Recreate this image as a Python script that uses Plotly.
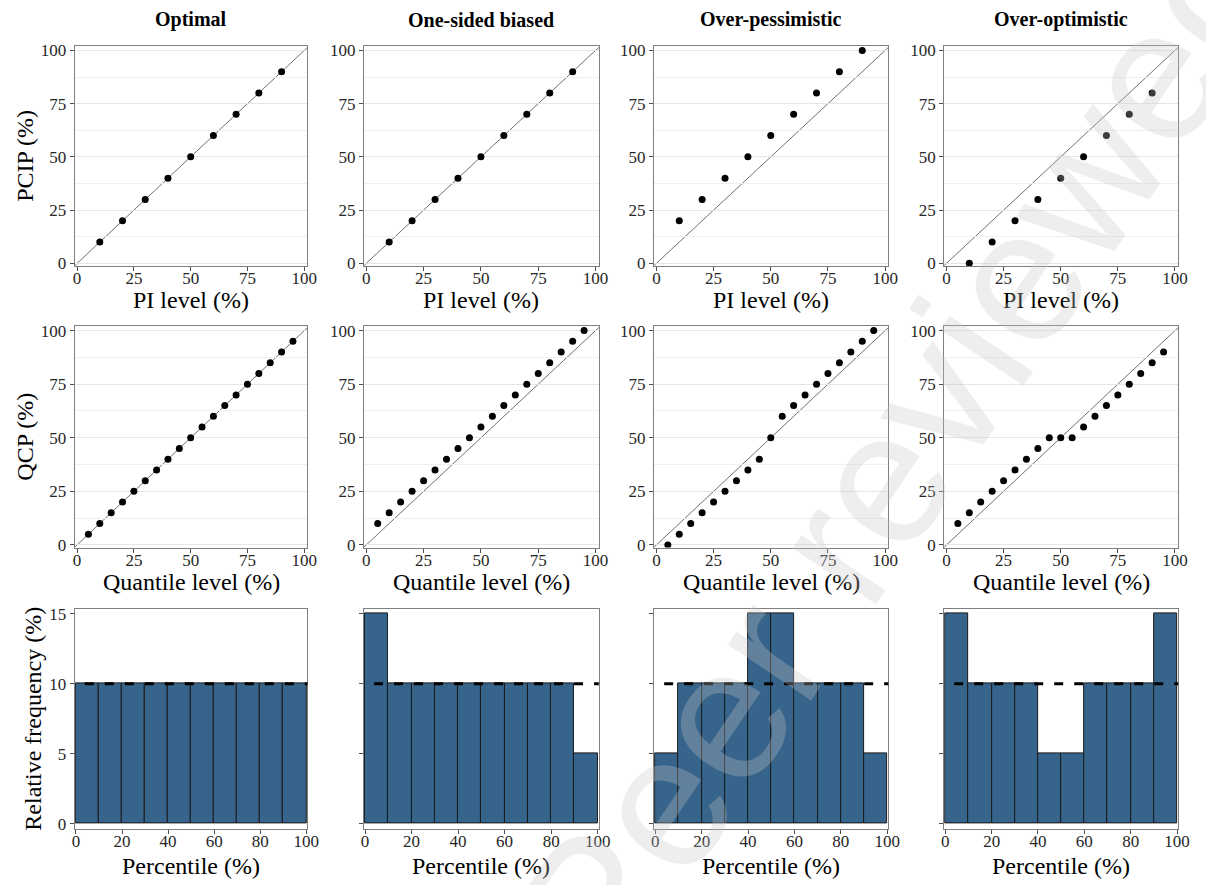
import plotly.graph_objects as go

# ---------------- data ----------------
COL_TITLES = ["Optimal", "One-sided biased", "Over-pessimistic", "Over-optimistic"]

PI_LEVEL = [10, 20, 30, 40, 50, 60, 70, 80, 90]
PCIP_OPTIMAL = [10, 20, 30, 40, 50, 60, 70, 80, 90]
PCIP_ONE_SIDED = [10, 20, 30, 40, 50, 60, 70, 80, 90]
PCIP_PESSIMISTIC = [20, 30, 40, 50, 60, 70, 80, 90, 100]
PCIP_OPTIMISTIC = [0, 10, 20, 30, 40, 50, 60, 70, 80]

Q_LEVEL = [5, 10, 15, 20, 25, 30, 35, 40, 45, 50, 55, 60, 65, 70, 75, 80, 85, 90, 95]
QCP_OPTIMAL = [5, 10, 15, 20, 25, 30, 35, 40, 45, 50, 55, 60, 65, 70, 75, 80, 85, 90, 95]
QCP_ONE_SIDED = [10, 15, 20, 25, 30, 35, 40, 45, 50, 55, 60, 65, 70, 75, 80, 85, 90, 95, 100]
QCP_PESSIMISTIC = [0, 5, 10, 15, 20, 25, 30, 35, 40, 50, 60, 65, 70, 75, 80, 85, 90, 95, 100]
QCP_OPTIMISTIC = [10, 15, 20, 25, 30, 35, 40, 45, 50, 50, 50, 55, 60, 65, 70, 75, 80, 85, 90]

BIN_LEFT = [0, 10, 20, 30, 40, 50, 60, 70, 80, 90]
BIN_WIDTH = 10
FREQ_OPTIMAL = [10, 10, 10, 10, 10, 10, 10, 10, 10, 10]
FREQ_ONE_SIDED = [15, 10, 10, 10, 10, 10, 10, 10, 10, 5]
FREQ_PESSIMISTIC = [5, 10, 10, 10, 15, 15, 10, 10, 10, 5]
FREQ_OPTIMISTIC = [15, 10, 10, 10, 5, 5, 10, 10, 10, 15]
UNIFORM_REF = 10

PCT_TICKS = [0, 25, 50, 75, 100]
HIST_X_TICKS = [0, 20, 40, 60, 80, 100]
HIST_Y_TICKS = [0, 5, 10, 15]

# ---------------- layout geometry ----------------
W, H = 1206, 885
COL_PX = [(72.7, 308.3), (365.5, 603.3), (659.3, 896.5), (953.0, 1190.0)]
ROW_PX = [(41.7, 264.5), (325.7, 550.0), (612.7, 835.0)]

SERIF = "Liberation Serif, Times New Roman, serif"
BAR_COLOR = "#36648B"
FRAME = "#7f7f7f"
TICKC = "#4d4d4d"

SCAT_X_RANGE = [-1.0, 101.4]
SCAT_Y_RANGE = [-1.2, 102.0]
HIST_X_RANGE = [-0.5, 100.5]
HIST_Y_RANGE = [-0.35, 15.32]

fig = go.Figure()

pcip = [PCIP_OPTIMAL, PCIP_ONE_SIDED, PCIP_PESSIMISTIC, PCIP_OPTIMISTIC]
qcp = [QCP_OPTIMAL, QCP_ONE_SIDED, QCP_PESSIMISTIC, QCP_OPTIMISTIC]
freq = [FREQ_OPTIMAL, FREQ_ONE_SIDED, FREQ_PESSIMISTIC, FREQ_OPTIMISTIC]

layout = {}
shapes = []
annotations = []

def dom_x(c):
    a, b = COL_PX[c]
    return [a / W, b / W]

def dom_y(r):
    a, b = ROW_PX[r]
    return [1 - b / H, 1 - a / H]

for r in range(3):
    for c in range(4):
        n = r * 4 + c + 1
        xs = "x" if n == 1 else f"x{n}"
        ys = "y" if n == 1 else f"y{n}"
        xk = "xaxis" if n == 1 else f"xaxis{n}"
        yk = "yaxis" if n == 1 else f"yaxis{n}"
        common = dict(
            showline=True, mirror=True, linecolor=FRAME, linewidth=1.2,
            ticks="outside", ticklen=4, tickwidth=1, tickcolor=TICKC,
            zeroline=False, fixedrange=True,
            tickfont=dict(family=SERIF, size=17, color="#262626"),
        )
        if r < 2:
            xdata = PI_LEVEL if r == 0 else Q_LEVEL
            ydata = pcip[c] if r == 0 else qcp[c]
            layout[xk] = dict(common, domain=dom_x(c), anchor=ys, range=SCAT_X_RANGE,
                              tickmode="array", tickvals=PCT_TICKS, showgrid=False,
                              ticklabelstandoff=-7)
            layout[yk] = dict(common, domain=dom_y(r), anchor=xs, range=SCAT_Y_RANGE,
                              tickmode="array", tickvals=PCT_TICKS,
                              showgrid=True, gridcolor="#e6e6e6", gridwidth=1.4,
                              minor=dict(tickvals=[12.5, 37.5, 62.5, 87.5], showgrid=True,
                                         gridcolor="#efefef", gridwidth=1, ticks=""))
            # identity line y = x across the whole panel
            shapes.append(dict(type="line", xref=xs, yref=ys,
                               x0=SCAT_Y_RANGE[0], y0=SCAT_Y_RANGE[0],
                               x1=SCAT_Y_RANGE[1], y1=SCAT_Y_RANGE[1],
                               line=dict(color="#707070", width=1), layer="below"))
            fig.add_trace(go.Scatter(x=xdata, y=ydata, mode="markers", xaxis=xs, yaxis=ys,
                                     marker=dict(color="black", size=7),
                                     showlegend=False, hoverinfo="x+y"))
        else:
            layout[xk] = dict(common, domain=dom_x(c), anchor=ys, range=HIST_X_RANGE,
                              tickmode="array", tickvals=HIST_X_TICKS, showgrid=False,
                              ticklabelstandoff=-7)
            layout[yk] = dict(common, domain=dom_y(r), anchor=xs, range=HIST_Y_RANGE,
                              tickmode="array", tickvals=HIST_Y_TICKS, showgrid=False,
                              showticklabels=(c == 0))
            centers = [b + BIN_WIDTH / 2 for b in BIN_LEFT]
            fig.add_trace(go.Bar(x=centers, y=freq[c], width=BIN_WIDTH, xaxis=xs, yaxis=ys,
                                 marker=dict(color=BAR_COLOR, line=dict(color="#1a1a1a", width=1)),
                                 showlegend=False))
            shapes.append(dict(type="line", xref=f"{xs} domain", yref=ys,
                               x0=0.043, x1=1.0, y0=UNIFORM_REF, y1=UNIFORM_REF,
                               line=dict(color="black", width=3, dash="9px,11px"), layer="above"))

# column titles
for c, t in enumerate(COL_TITLES):
    a, b = COL_PX[c]
    annotations.append(dict(text=f"<b>{t}</b>", x=(a + b) / 2 / W, y=1 - 15 / H,
                            xref="paper", yref="paper", showarrow=False,
                            xanchor="center", yanchor="middle",
                            font=dict(family=SERIF, size=20, color="black")))

X_TITLES = ["PI level (%)", "Quantile level (%)", "Percentile (%)"]
Y_TITLES = ["PCIP (%)", "QCP (%)", "Relative frequency (%)"]
for r in range(3):
    off = 35 if r < 2 else 38
    for c in range(4):
        a, b = COL_PX[c]
        annotations.append(dict(text=X_TITLES[r], x=(a + b) / 2 / W,
                                y=1 - (ROW_PX[r][1] + off) / H,
                                xref="paper", yref="paper", showarrow=False,
                                xanchor="center", yanchor="middle",
                                font=dict(family=SERIF, size=24, color="black")))
    ya, yb = ROW_PX[r]
    annotations.append(dict(text=Y_TITLES[r], x=(22 if r < 2 else 30) / W,
                            y=1 - (ya + yb) / 2 / H, xref="paper", yref="paper",
                            showarrow=False, textangle=-90, xanchor="center", yanchor="middle",
                            font=dict(family=SERIF, size=24, color="black")))

# watermark
annotations.append(dict(text="Peer reviewed", x=908 / W, y=1 - 452 / H, xref="paper", yref="paper",
                        showarrow=False, textangle=-56, xanchor="center", yanchor="middle",
                        font=dict(family="Liberation Sans, Arial, sans-serif", size=190,
                                  color="rgba(200,200,200,0.30)")))

fig.update_layout(
    width=W, height=H,
    margin=dict(l=0, r=0, t=0, b=0),
    paper_bgcolor="white", plot_bgcolor="white",
    showlegend=False, bargap=0,
    shapes=shapes, annotations=annotations,
    **layout,
)

fig.write_html("out.html", include_plotlyjs=True, config={"displayModeBar": False})
